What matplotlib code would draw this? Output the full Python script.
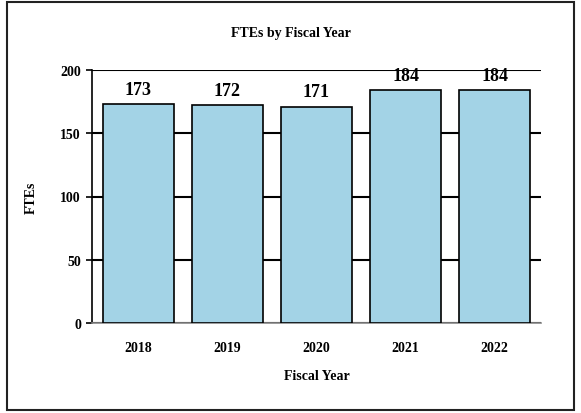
import matplotlib
matplotlib.use("Agg")
import matplotlib.pyplot as plt
from matplotlib.patches import Rectangle

# data
years = ["2018", "2019", "2020", "2021", "2022"]
ftes = [173, 172, 171, 184, 184]
yticks = [0, 50, 100, 150, 200]

plt.rcParams['font.family'] = ['Liberation Serif', 'DejaVu Serif']
plt.rcParams['font.weight'] = 'bold'

fig = plt.figure(figsize=(5.81, 4.14), dpi=100)
# outer frame
fig.patches.append(Rectangle((7 / 581, 3 / 414), 567 / 581, 408 / 414,
                             transform=fig.transFigure, fill=False,
                             edgecolor='#222222', linewidth=1.5))

ax = fig.add_axes([92 / 581, 90 / 414, 449 / 581, 253 / 414])
x = range(len(years))
bars = ax.bar(x, ftes, width=0.8, color='#A3D3E6', edgecolor='black',
              linewidth=1.2, zorder=3)

for b, v in zip(bars, ftes):
    ax.text(b.get_x() + b.get_width() / 2, v + 5, str(v), ha='center',
            va='bottom', fontsize=13, fontweight='bold', zorder=4)

ax.set_xlim(-0.52, 4.52)
ax.set_ylim(0, 200)
ax.set_yticks(yticks)
ax.set_xticks(list(x))
ax.set_xticklabels(years)
ax.yaxis.grid(True, color='black', linewidth=1.5, zorder=0)
ax.set_axisbelow(True)

ax.spines['top'].set_visible(False)
ax.spines['right'].set_visible(False)
ax.spines['left'].set_color('black')
ax.spines['left'].set_linewidth(1.2)
ax.spines['bottom'].set_color('#888888')
ax.spines['bottom'].set_linewidth(1.2)
ax.tick_params(axis='y', length=4, width=1.2, labelsize=10, pad=4)
ax.tick_params(axis='x', length=0, labelsize=10, pad=13)

ax.set_xlabel("Fiscal Year", fontsize=10, fontweight='bold', labelpad=11)
ax.set_ylabel("FTEs", fontsize=10, fontweight='bold', labelpad=16)
fig.text(0.5, 1 - 33 / 414, "FTEs by Fiscal Year", ha='center', va='center',
         fontsize=10, fontweight='bold')

fig.savefig("out.png", dpi=100)
